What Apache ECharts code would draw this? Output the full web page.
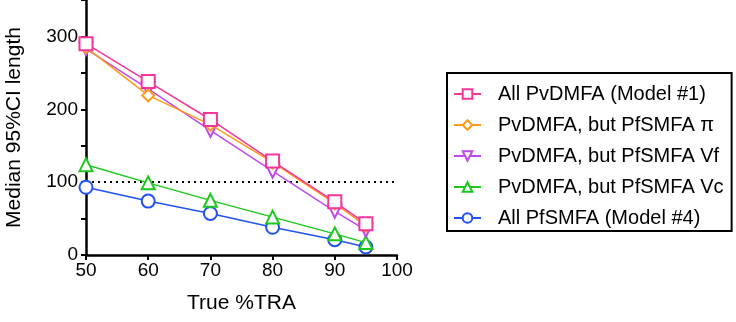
<!DOCTYPE html>
<html>
<head>
<meta charset="utf-8">
<script src="https://cdn.jsdelivr.net/npm/echarts@6/dist/echarts.min.js"></script>
<style>
  html, body { margin: 0; padding: 0; background: #fff; }
  #chart { width: 736px; height: 322px; }
</style>
</head>
<body>
<div id="chart"></div>
<script>
var traLevels = [50, 60, 70, 80, 90, 95];
var seriesNames = [
    'All PvDMFA (Model #1)',
    'PvDMFA, but PfSMFA \u03c0',
    'PvDMFA, but PfSMFA Vf',
    'PvDMFA, but PfSMFA Vc',
    'All PfSMFA (Model #4)'
];
var allPvDMFA = [290, 238, 186, 129, 73, 43];
var pvButPi = [285, 219, 179, 127, 71, 40];
var pvButVf = [283, 228, 171, 115, 60, 34];
var pvButVc = [124, 99, 75, 52, 29, 17];
var allPfSMFA = [93, 74, 57, 38, 21, 11];
var thresholdValue = 100;

var colors = ['#f5359a', '#ff9a1a', '#c04ae8', '#1cc81c', '#2152f5'];
var symbols = ['rect', 'diamond', 'triangle', 'triangle', 'circle'];
var symbolRotate = [0, 0, 180, 0, 0];
var symbolSizes = [13, 12, 13, 13, 13];
var values = [allPvDMFA, pvButPi, pvButVf, pvButVc, allPfSMFA];

var myChart = echarts.init(document.getElementById('chart'));

var series = values.map(function (vals, i) {
    return {
        name: seriesNames[i],
        type: 'line',
        symbol: symbols[i],
        symbolRotate: symbolRotate[i],
        symbolSize: symbolSizes[i],
        showAllSymbol: true,
        z: 10 - i,
        lineStyle: { color: colors[i], width: 1.5 },
        itemStyle: { color: '#fff', borderColor: colors[i], borderWidth: 2 },
        data: vals.map(function (v, j) { return [traLevels[j], v]; })
    };
});
// dotted reference line at 100
series[0].markLine = {
    silent: true,
    symbol: 'none',
    label: { show: false },
    lineStyle: { color: '#000', type: [2, 4], width: 2 },
    data: [{ yAxis: thresholdValue }]
};

var option = {
    animation: false,
    textStyle: { fontFamily: 'Liberation Sans, Arial, sans-serif' },
    grid: {
        left: 86,
        right: 339,
        top: 0,
        bottom: 67
    },
    legend: {
        orient: 'vertical',
        left: 447,
        top: 73,
        padding: [10, 8, 2, 6],
        itemGap: 9,
        itemWidth: 27,
        itemHeight: 12,
        borderColor: '#000',
        borderWidth: 2,
        textStyle: { fontSize: 20, color: '#000', lineHeight: 22, padding: [0, 0, 0, 12] },
        data: seriesNames
    },
    xAxis: {
        type: 'value',
        min: 50,
        max: 100,
        interval: 10,
        name: 'True %TRA',
        nameLocation: 'middle',
        nameGap: 38,
        nameTextStyle: { fontSize: 21, color: '#000' },
        axisLine: { lineStyle: { color: '#000', width: 2.5 } },
        axisTick: { show: true, length: 5, lineStyle: { color: '#000', width: 2 } },
        axisLabel: { fontSize: 19, color: '#000', margin: 6 },
        splitLine: { show: false }
    },
    yAxis: {
        type: 'value',
        min: 0,
        max: 350,
        interval: 50,
        name: 'Median 95%CI length',
        nameLocation: 'middle',
        nameGap: 61,
        nameTextStyle: { fontSize: 21, color: '#000' },
        axisLine: { show: true, lineStyle: { color: '#000', width: 2.5 } },
        axisTick: { show: true, length: 5, lineStyle: { color: '#000', width: 2 } },
        axisLabel: {
            fontSize: 19,
            color: '#000',
            margin: 8,
            formatter: function (v) { return v % 100 === 0 ? String(v) : ''; }
        },
        splitLine: { show: false }
    },
    series: series
};
myChart.setOption(option);
window.addEventListener('resize', function () {
    myChart.resize();
});
</script>
</body>
</html>
